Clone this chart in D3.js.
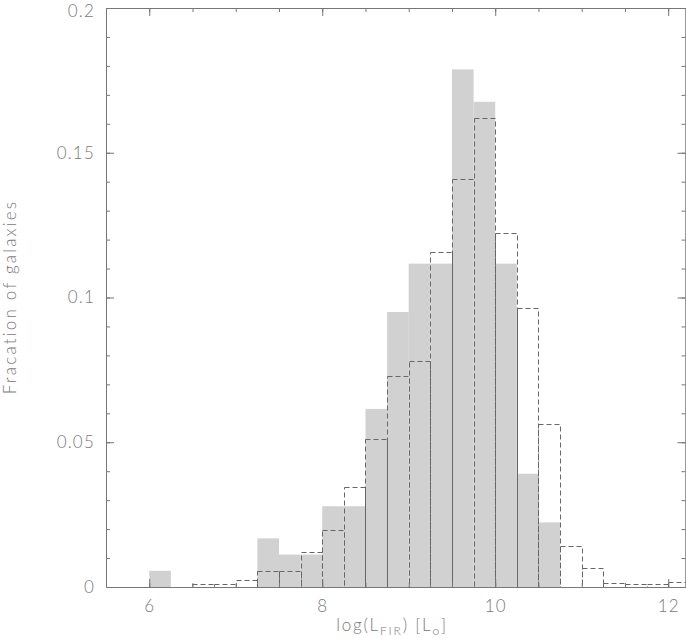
<!DOCTYPE html>
<html>
<head>
<meta charset="utf-8">
<script src="https://cdn.jsdelivr.net/npm/d3@7"></script>
<style>
  body { margin: 0; background: #fff; }
  svg { display: block; }
  .axis path, .axis line { stroke: #777; stroke-width: 1; }
  .axis text, .label { fill: #7a7a7a; font-family: Lato, "Open Sans", sans-serif; font-weight: 300; font-size: 17px; letter-spacing: 1.2px; }
</style>
</head>
<body>
<svg id="chart"></svg>
<script>
// bin left edges, log(L_FIR)
var binLeft = [6.0, 6.25, 6.5, 6.75, 7.0, 7.25, 7.5, 7.75, 8.0, 8.25, 8.5, 8.75,
               9.0, 9.25, 9.5, 9.75, 10.0, 10.25, 10.5, 10.75, 11.0, 11.25, 11.5, 11.75, 12.0];
var binWidth = 0.25;

// filled histogram
var filledFrac = [0.0056, 0, 0, 0, 0, 0.0168, 0.0112, 0.0112, 0.0279, 0.0279, 0.0615, 0.0950,
                  0.1117, 0.1117, 0.1788, 0.1676, 0.1117, 0.0391, 0.0223, 0, 0, 0, 0, 0, 0];

// dashed histogram
var dashedFrac = [0, 0, 0.0009, 0.0009, 0.0024, 0.0055, 0.0055, 0.0120, 0.0196, 0.0346, 0.0510, 0.0728,
                  0.0781, 0.1157, 0.1409, 0.1620, 0.1222, 0.0965, 0.0562, 0.0143, 0.0067, 0.0013, 0.0009, 0.0009, 0.0018];

var xMajor = [6, 8, 10, 12];
var yMajor = [0, 0.05, 0.1, 0.15, 0.2];

var width = 686, height = 639;
var margin = {top: 8, right: 0, bottom: 52, left: 106},
    innerwidth = width - margin.left - margin.right,
    innerheight = height - margin.top - margin.bottom;

var x = d3.scaleLinear().domain([5.5, 12.2]).range([0, innerwidth - 0.5]);
var y = d3.scaleLinear().domain([0, 0.2]).range([innerheight, 0]);

var svg = d3.select("#chart")
    .attr("width", width)
    .attr("height", height);

svg.append("defs").append("clipPath").attr("id", "plotclip")
    .append("rect").attr("width", innerwidth).attr("height", innerheight);

var g = svg.append("g")
    .attr("transform", "translate(" + margin.left + "," + margin.top + ")");

var bins = binLeft.map(function(b, i) {
    return {x0: b, x1: b + binWidth, filled: filledFrac[i], dashed: dashedFrac[i]};
});

var plot = g.append("g").attr("clip-path", "url(#plotclip)");

plot.selectAll(".bar")
    .data(bins.filter(function(d) { return d.filled > 0; }))
  .enter().append("rect")
    .attr("class", "bar")
    .attr("x", function(d) { return x(d.x0); })
    .attr("y", function(d) { return y(d.filled); })
    .attr("width", function(d) { return x(d.x1) - x(d.x0); })
    .attr("height", function(d) { return y(0) - y(d.filled); })
    .attr("fill", "#d1d1d1");

plot.selectAll(".dbar")
    .data(bins)
  .enter().append("rect")
    .attr("class", "dbar")
    .attr("x", function(d) { return Math.round(x(d.x0)) + 0.5; })
    .attr("y", function(d) { return Math.round(y(d.dashed)) + 0.5; })
    .attr("width", function(d) { return Math.round(x(d.x1)) - Math.round(x(d.x0)); })
    .attr("height", function(d) { return Math.round(y(0)) - Math.round(y(d.dashed)); })
    .attr("fill", "none")
    .attr("stroke", "#666")
    .attr("stroke-width", 1)
    .attr("stroke-dasharray", "5,3");

// axes, ticks pointing inwards
var xMinor = d3.range(5.5, 12.21, 0.5);
var yMinor = d3.range(0, 0.2001, 0.01);

g.append("g").attr("class", "x axis")
    .attr("transform", "translate(0," + innerheight + ")")
    .call(d3.axisBottom(x).tickValues(xMinor).tickFormat("").tickSize(-4).tickSizeOuter(0));
g.append("g").attr("class", "x axis")
    .attr("transform", "translate(0," + innerheight + ")")
    .call(d3.axisBottom(x).tickValues(xMajor).tickFormat(d3.format("d")).tickSize(-8).tickSizeOuter(0).tickPadding(13));

g.append("g").attr("class", "x axis")
    .call(d3.axisTop(x).tickValues(xMinor).tickFormat("").tickSize(-4).tickSizeOuter(0));
g.append("g").attr("class", "x axis")
    .call(d3.axisTop(x).tickValues(xMajor).tickFormat("").tickSize(-8).tickSizeOuter(0));

g.append("g").attr("class", "y axis")
    .call(d3.axisLeft(y).tickValues(yMinor).tickFormat("").tickSize(-4).tickSizeOuter(0));
var yLab = g.append("g").attr("class", "y axis")
    .call(d3.axisLeft(y).tickValues(yMajor).tickFormat(function(d) { return String(d); })
        .tickSize(-8).tickSizeOuter(0).tickPadding(11));
// keep the top label inside the page
yLab.selectAll(".tick text").filter(function(d) { return d === 0.2; }).attr("dy", "0.5em");

g.append("g").attr("class", "y axis")
    .attr("transform", "translate(" + (innerwidth - 0.5) + ",0)")
    .call(d3.axisRight(y).tickValues(yMinor).tickFormat("").tickSize(-4).tickSizeOuter(0));
g.append("g").attr("class", "y axis")
    .attr("transform", "translate(" + (innerwidth - 0.5) + ",0)")
    .call(d3.axisRight(y).tickValues(yMajor).tickFormat("").tickSize(-8).tickSizeOuter(0));

g.selectAll(".axis text").attr("fill", "#7a7a7a");

// axis titles
var xt = svg.append("text")
    .attr("class", "label")
    .attr("x", 392)
    .attr("y", 631)
    .attr("text-anchor", "middle")
    .style("letter-spacing", "1.8px");
xt.append("tspan").text("log(L");
xt.append("tspan").attr("dy", 4).style("font-size", "12px").text("FIR");
xt.append("tspan").attr("dy", -4).text(")  [L");
xt.append("tspan").attr("dy", 4).style("font-size", "12px").text("o");
xt.append("tspan").attr("dy", -4).text("]");

svg.append("text")
    .attr("class", "label")
    .attr("transform", "translate(16,297) rotate(-90)")
    .attr("text-anchor", "middle")
    .style("letter-spacing", "2.2px")
    .text("Fracation of galaxies");
</script>
</body>
</html>
